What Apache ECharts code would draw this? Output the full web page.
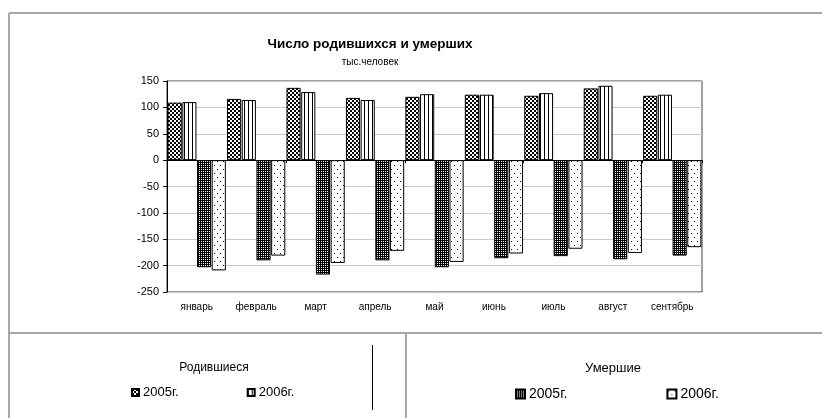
<!DOCTYPE html>
<html><head><meta charset="utf-8">
<script src="https://cdn.jsdelivr.net/npm/echarts@6/dist/echarts.min.js"></script>
<style>html,body{margin:0;padding:0;background:#fff}#c{width:822px;height:418px}</style>
</head><body><div id="c"></div>
<script>
const months = ['январь','февраль','март','апрель','май','июнь','июль','август','сентябрь'];
const births2005 = [109,116,137,118,120,124,122,136,122];
const births2006 = [110,114,129,114,125,124,127,141,124];
const deaths2005 = [-203,-190,-217,-190,-203,-186,-182,-188,-181];
const deaths2006 = [-209,-181,-195,-172,-193,-177,-168,-176,-165];
const yMin = -250, yMax = 150, yStep = 50;
const legendYears = ['2005г.','2006г.'];

function pat(w,h,draw){
  const c=document.createElement('canvas');c.width=w;c.height=h;
  const g=c.getContext('2d');g.fillStyle='#fff';g.fillRect(0,0,w,h);g.fillStyle='#000';draw(g);
  return {image:c,repeat:'repeat'};
}
const pB05 = pat(4,4,g=>{g.fillRect(0,0,2,2);g.fillRect(2,2,2,2);});
const pB06 = pat(4,4,g=>{g.fillRect(0,0,1,4);});
const pD05 = pat(4,4,g=>{g.fillRect(0,0,4,4);g.fillStyle='#fff';g.fillRect(1,1,1,1);g.fillRect(3,3,1,1);g.fillRect(3,1,1,1);g.fillRect(1,3,1,1);});
const pD06 = pat(6,8,g=>{g.fillRect(1,1,1,1);g.fillRect(4,5,1,1);});

const FONT = 'Liberation Sans, Arial, sans-serif';
const chart = echarts.init(document.getElementById('c'), null, {renderer:'canvas'});
const barBase = {type:'bar', barGap:'4%', barCategoryGap:'2%', xAxisIndex:0, yAxisIndex:0};
const names = ['Родившиеся '+legendYears[0],'Родившиеся '+legendYears[1],'Умершие '+legendYears[0],'Умершие '+legendYears[1]];

chart.setOption({
  animation:false,
  backgroundColor:'#fff',
  grid:{left:167,right:120,top:81,bottom:126,show:true,borderColor:'#444',borderWidth:1},
  xAxis:[
    {type:'category',data:months,position:'bottom',axisLine:{onZero:false,show:false},axisTick:{show:false},
     axisLabel:{fontFamily:FONT,fontSize:10,color:'#000',margin:10}},
    {type:'category',data:months,position:'bottom',axisLine:{onZero:true,lineStyle:{color:'#000',width:1}},
     axisTick:{show:true,length:3,lineStyle:{color:'#000'}},axisLabel:{show:false}}
  ],
  yAxis:{type:'value',min:yMin,max:yMax,interval:yStep,
    axisLine:{show:true,lineStyle:{color:'#000'}},axisTick:{show:true,length:4,lineStyle:{color:'#000'}},
    splitLine:{lineStyle:{color:'#c8c8c8'}},
    axisLabel:{fontFamily:FONT,fontSize:11,color:'#000',margin:8}},
  legend:[
    {data:[names[0],names[1]],left:126,top:381,icon:'rect',itemWidth:7,itemHeight:7,itemGap:68,
     formatter:n=>n.split(' ')[1],textStyle:{fontFamily:FONT,fontSize:13,color:'#000',padding:[0,0,0,-1]}},
    {data:[names[2],names[3]],left:510,top:382,icon:'rect',itemWidth:9,itemHeight:9,itemGap:99,
     formatter:n=>n.split(' ')[1],textStyle:{fontFamily:FONT,fontSize:14,color:'#000',padding:[0,0,0,-1]}}
  ],
  series:[
    Object.assign({},barBase,{name:names[0],data:births2005,color:pB05,itemStyle:{color:pB05,borderColor:'#000',borderWidth:1}}),
    Object.assign({},barBase,{name:names[1],data:births2006,color:pB06,itemStyle:{color:pB06,borderColor:'#000',borderWidth:1}}),
    Object.assign({},barBase,{name:names[2],data:deaths2005,color:pD05,itemStyle:{color:pD05,borderColor:'#000',borderWidth:1}}),
    Object.assign({},barBase,{name:names[3],data:deaths2006,color:pD06,itemStyle:{color:pD06,borderColor:'#000',borderWidth:1}})
  ],
  graphic:[
    {type:'line',shape:{x1:9,y1:13,x2:822,y2:13},style:{stroke:'#a8a8a8',lineWidth:2}},
    {type:'line',shape:{x1:9,y1:13,x2:9,y2:418},style:{stroke:'#a8a8a8',lineWidth:2}},
    {type:'line',shape:{x1:9,y1:333,x2:822,y2:333},style:{stroke:'#a8a8a8',lineWidth:2}},
    {type:'line',shape:{x1:406,y1:333,x2:406,y2:418},style:{stroke:'#a8a8a8',lineWidth:2}},
    {type:'line',shape:{x1:372.5,y1:345,x2:372.5,y2:410},style:{stroke:'#000',lineWidth:1}},
    {type:'text',x:370,y:44,style:{text:'Число родившихся и умерших',fontFamily:FONT,fontSize:13.5,fontWeight:'bold',fill:'#000',textAlign:'center',textVerticalAlign:'middle'}},
    {type:'text',x:370,y:62,style:{text:'тыс.человек',fontFamily:FONT,fontSize:10,fill:'#000',textAlign:'center',textVerticalAlign:'middle'}},
    {type:'text',x:214,y:368,style:{text:'Родившиеся',fontFamily:FONT,fontSize:12,fill:'#000',textAlign:'center',textVerticalAlign:'middle'}},
    {type:'text',x:613,y:368,style:{text:'Умершие',fontFamily:FONT,fontSize:13,fill:'#000',textAlign:'center',textVerticalAlign:'middle'}}
  ]
});
</script></body></html>
